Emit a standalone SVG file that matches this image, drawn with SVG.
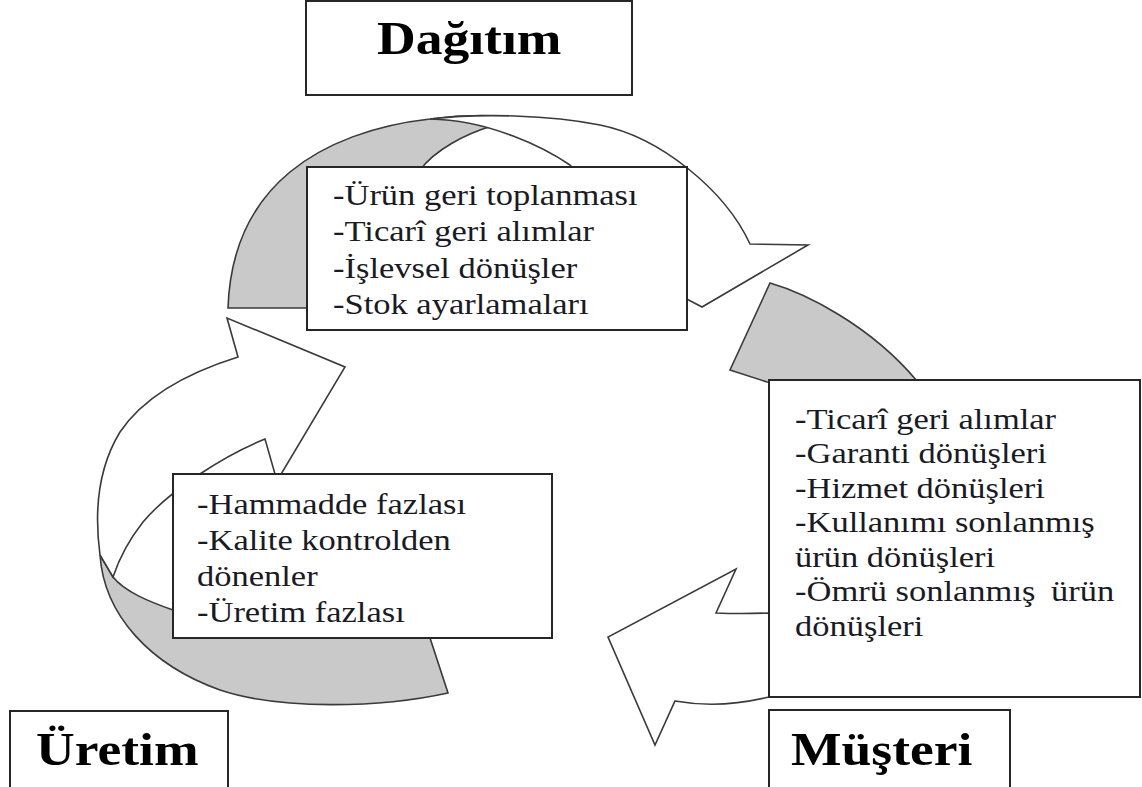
<svg xmlns="http://www.w3.org/2000/svg" width="1142" height="787" viewBox="0 0 1142 787">
  <style>
    .box { fill: #ffffff; stroke: #262626; stroke-width: 2; }
    .back { fill: #c9c9c9; stroke: #3a3a3a; stroke-width: 1.6; stroke-linejoin: miter; }
    .front { fill: #ffffff; stroke: #3a3a3a; stroke-width: 1.6; stroke-linejoin: miter; }
    .title { font-family: "Liberation Serif", "Times New Roman", serif; font-weight: bold; font-size: 47px; fill: #000000; }
    .item { font-family: "Liberation Serif", "Times New Roman", serif; font-size: 30px; fill: #1a1a24; }
  </style>

  <rect width="1142" height="787" fill="#ffffff"/>

  <!-- twisted ribbon arrows of the cycle -->
  <g id="connectors">
    <!-- back (grey) faces -->
    <path class="back" d="M228,308 C230,250 250,205 290,172 C325,143 375,125 430,119 C460,115 480,115 500,116 L492,126 C465,134 435,150 420,170 L360,308 Z"/>
    <path class="back" d="M770,283 C805,293 870,325 917,381 L917,420 L790,420 L790,385 L767,382 L730,370 Z"/>
    <path class="back" d="M100,555 C104,615 150,665 220,690 C280,710 380,708 448,693 L430,638 L420,625 L200,625 L173,610 C150,602 125,592 113,577 Z"/>

    <!-- front (white) faces with arrowheads -->
    <path id="arrow-dagitim" class="front" d="M430,119 C480,113 550,115 600,125 C660,137 725,190 750,244 L808,245 L702,307 L660,285 C630,240 600,195 570,165 C545,148 490,120 430,119 Z"/>
    <path id="arrow-musteri" class="front" d="M769,613 Q740,614 716,613 L736,569 L608,637 L655,745 L675,701 Q720,709 769,697 Z"/>
    <path id="arrow-uretim" class="front" d="M100,555 C94,510 98,468 120,432 C145,395 190,372 238,357 L227,318 L345,367 L277,481 L265,439 C225,455 170,490 143,522 C132,536 120,556 113,577 Z"/>
  </g>

  <!-- stage boxes -->
  <g id="node-dagitim">
    <rect class="box" x="306" y="1" width="326" height="94"/>
    <text class="title" transform="translate(377 54) scale(1.14 1)">Dağıtım</text>
  </g>

  <g id="node-uretim">
    <rect class="box" x="10" y="711" width="218" height="90"/>
    <text class="title" transform="translate(36 765) scale(1.14 1)">Üretim</text>
  </g>

  <g id="node-musteri">
    <rect class="box" x="769" y="710" width="241" height="90"/>
    <text class="title" transform="translate(791 765) scale(1.14 1)">Müşteri</text>
  </g>

  <!-- return types at each stage -->
  <g id="node-dagitim-iadeler">
    <rect class="box" x="307" y="167" width="380" height="163"/>
    <text class="item" transform="translate(333 0) scale(1.15 1)">
      <tspan x="0" y="205">-Ürün geri toplanması</tspan>
      <tspan x="0" y="241.5">-Ticarî geri alımlar</tspan>
      <tspan x="0" y="278">-İşlevsel dönüşler</tspan>
      <tspan x="0" y="314.5">-Stok ayarlamaları</tspan>
    </text>
  </g>

  <g id="node-uretim-iadeler">
    <rect class="box" x="173" y="474" width="379" height="164"/>
    <text class="item" transform="translate(197 0) scale(1.15 1)">
      <tspan x="0" y="514">-Hammadde fazlası</tspan>
      <tspan x="0" y="550">-Kalite kontrolden</tspan>
      <tspan x="0" y="586">dönenler</tspan>
      <tspan x="0" y="622">-Üretim fazlası</tspan>
    </text>
  </g>

  <g id="node-musteri-iadeler">
    <rect class="box" x="769" y="380" width="371" height="317"/>
    <text class="item" transform="translate(795 0) scale(1.15 1)">
      <tspan x="0" y="429">-Ticarî geri alımlar</tspan>
      <tspan x="0" y="463.5">-Garanti dönüşleri</tspan>
      <tspan x="0" y="498">-Hizmet dönüşleri</tspan>
      <tspan x="0" y="532.5">-Kullanımı sonlanmış</tspan>
      <tspan x="0" y="567">ürün dönüşleri</tspan>
      <tspan x="0" y="601.5">-Ömrü sonlanmış <tspan dx="6">ürün</tspan></tspan>
      <tspan x="0" y="636">dönüşleri</tspan>
    </text>
  </g>
</svg>
